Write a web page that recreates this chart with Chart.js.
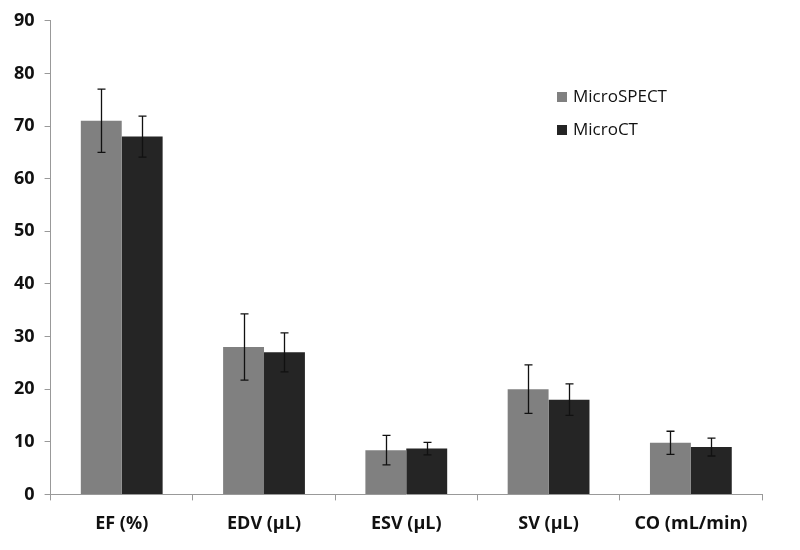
<!DOCTYPE html>
<html>
<head>
<meta charset="utf-8">
<script src="https://cdn.jsdelivr.net/npm/chart.js@4/dist/chart.umd.min.js"></script>
<style>
  body { margin: 0; background: #fff; }
  #wrap { width: 800px; height: 550px; }
</style>
</head>
<body>
<div id="wrap"><canvas id="volumeChart"></canvas></div>
<script>
var categories = ['EF (%)', 'EDV (µL)', 'ESV (µL)', 'SV (µL)', 'CO (mL/min)'];
var spectValues = [71, 28, 8.4, 20, 9.8];
var spectErrors = [6, 6.3, 2.8, 4.6, 2.2];
var ctValues = [68, 27, 8.7, 18, 9];
var ctErrors = [3.9, 3.7, 1.2, 3, 1.7];
var yTicks = [0, 10, 20, 30, 40, 50, 60, 70, 80, 90];

var seriesNames = ['MicroSPECT', 'MicroCT'];
var seriesColors = ['#808080', '#252525'];
var errorsBySeries = [spectErrors, ctErrors];

// error bars drawn through the chart's own scales
var errorBarPlugin = {
	id: 'errorBars',
	afterDatasetsDraw: function (chart) {
		var ctx = chart.ctx;
		var yScale = chart.scales.y;
		ctx.save();
		ctx.strokeStyle = '#111';
		ctx.lineWidth = 1.3;
		chart.data.datasets.forEach(function (ds, di) {
			var meta = chart.getDatasetMeta(di);
			meta.data.forEach(function (bar, i) {
				var v = ds.data[i];
				var e = errorsBySeries[di][i];
				var yTop = yScale.getPixelForValue(v + e);
				var yBot = yScale.getPixelForValue(v - e);
				var x = Math.round(bar.x) + 0.5;
				ctx.beginPath();
				ctx.moveTo(x, yTop);
				ctx.lineTo(x, yBot);
				ctx.moveTo(x - 4, yTop);
				ctx.lineTo(x + 4, yTop);
				ctx.moveTo(x - 4, yBot);
				ctx.lineTo(x + 4, yBot);
				ctx.stroke();
			});
		});
		ctx.restore();
	}
};

// legend inside the plot, upper right
var boxLegendPlugin = {
	id: 'boxLegend',
	afterDraw: function (chart) {
		var ctx = chart.ctx;
		ctx.save();
		ctx.font = '17px "Open Sans", sans-serif';
		ctx.textBaseline = 'middle';
		seriesNames.forEach(function (name, i) {
			var y = 97 + i * 33;
			ctx.fillStyle = seriesColors[i];
			ctx.fillRect(557, y - 5, 10, 10);
			ctx.fillStyle = '#111';
			ctx.fillText(name, 573, y);
		});
		ctx.restore();
	}
};

var volumeCtx = document.getElementById('volumeChart');
var volumeChart = new Chart(volumeCtx, {
	type: 'bar',
	data: {
		labels: categories,
		datasets: [{
			label: seriesNames[0],
			data: spectValues,
			backgroundColor: seriesColors[0],
			borderWidth: 0
		}, {
			label: seriesNames[1],
			data: ctValues,
			backgroundColor: seriesColors[1],
			borderWidth: 0
		}]
	},
	options: {
		responsive: true,
		maintainAspectRatio: false,
		animation: false,
		layout: { padding: { left: 4, right: 38, top: 13, bottom: 2 } },
		datasets: { bar: { categoryPercentage: 0.575, barPercentage: 1 } },
		plugins: {
			legend: { display: false },
			tooltip: { enabled: false }
		},
		scales: {
			x: {
				grid: { offset: true, drawOnChartArea: false, drawTicks: true, tickLength: 6, color: '#999' },
				border: { color: '#999' },
				ticks: {
					color: '#111',
					font: { family: '"Open Sans", sans-serif', size: 18, weight: 'bold' },
					padding: 13
				}
			},
			y: {
				min: 0,
				max: 90,
				afterBuildTicks: function (axis) {
					axis.ticks = yTicks.map(function (v) { return { value: v }; });
				},
				grid: { drawOnChartArea: false, drawTicks: true, tickLength: 6, color: '#999' },
				border: { color: '#999' },
				ticks: {
					color: '#111',
					font: { family: '"Open Sans", sans-serif', size: 18, weight: 'bold' },
					padding: 10
				}
			}
		}
	},
	plugins: [errorBarPlugin, boxLegendPlugin]
});
</script>
</body>
</html>
